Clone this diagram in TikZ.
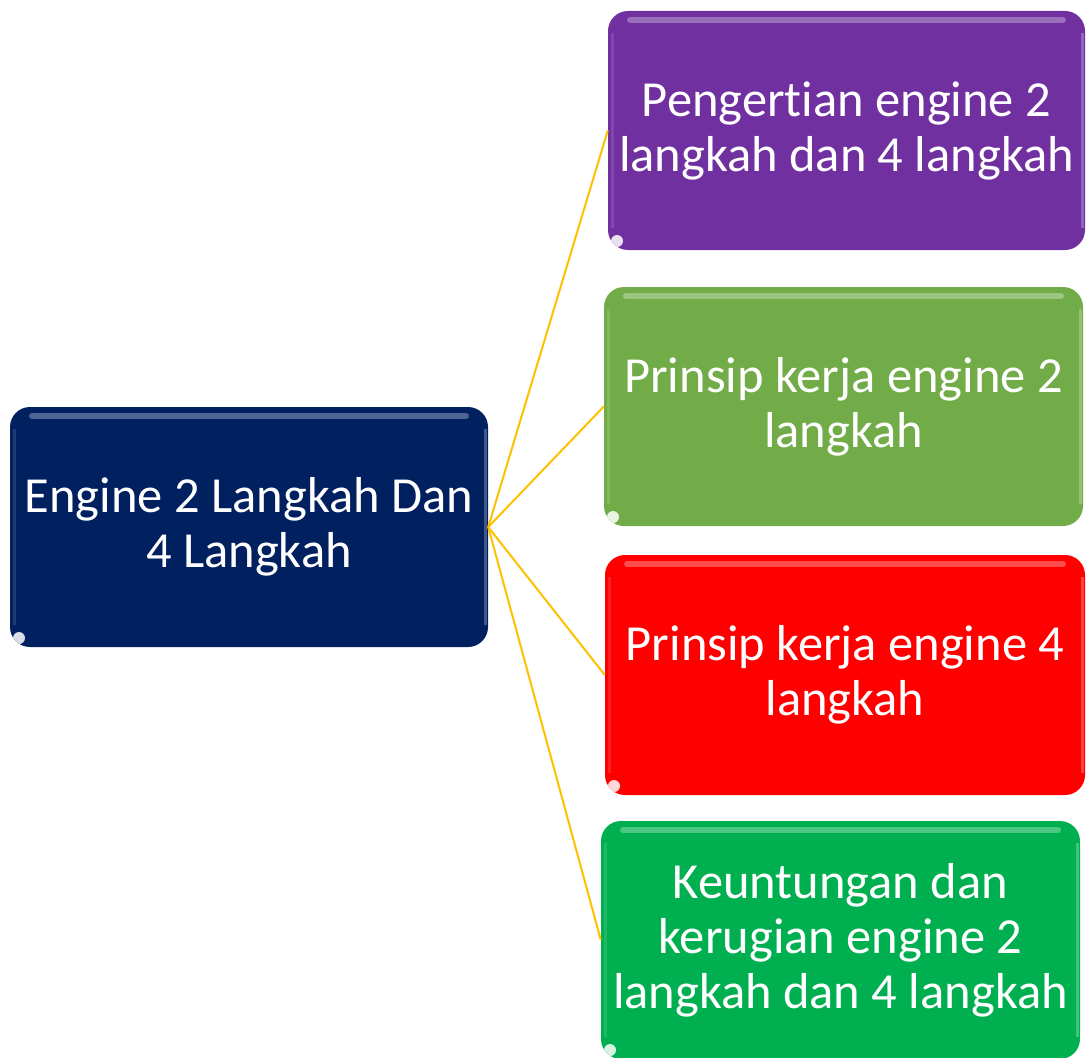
\documentclass[tikz,border=0pt]{standalone}
\usepackage{fontspec}
\setmainfont{Carlito}[Ligatures=NoCommon]
\definecolor{navy}{HTML}{002060}
\definecolor{cpurple}{HTML}{7030A0}
\definecolor{clgreen}{HTML}{72AC48}
\definecolor{cred}{HTML}{FF0000}
\definecolor{cgreen}{HTML}{00B050}
\definecolor{cline}{HTML}{FFC000}
\begin{document}
\begin{tikzpicture}[x=1pt,y=-1pt,
  box/.style={rounded corners=20pt, inner sep=0pt, align=center, text=white,
    font=\fontsize{50.5}{55}\selectfont,
    path picture={
      \draw[white, opacity=0.3, line width=6pt, line cap=round]
        ([xshift=22pt,yshift=-9pt]path picture bounding box.north west) --
        ([xshift=-22pt,yshift=-9pt]path picture bounding box.north east);
      \draw[white, opacity=0.25, line width=3pt]
        ([xshift=-3pt,yshift=-22pt]path picture bounding box.north east) --
        ([xshift=-3pt,yshift=22pt]path picture bounding box.south east);
      \draw[white, opacity=0.12, line width=3pt]
        ([xshift=4pt,yshift=-22pt]path picture bounding box.north west) --
        ([xshift=4pt,yshift=22pt]path picture bounding box.south west);
      \fill[white, opacity=0.85]
        ([xshift=9pt,yshift=9pt]path picture bounding box.south west) circle (6pt);
    }},
  conn/.style={cline, line width=2pt}]
\useasboundingbox (0,0) rectangle (1086,1057);
\node[box, fill=navy, minimum width=478pt, minimum height=240pt] (main) at (249,527)
  {Engine 2 Langkah Dan\\4 Langkah};
\node[box, fill=cpurple, minimum width=477pt, minimum height=239pt] (b1) at (846.5,130.5)
  {Pengertian engine 2\\langkah dan 4 langkah};
\node[box, fill=clgreen, minimum width=479pt, minimum height=239pt] (b2) at (843.5,406.5)
  {Prinsip kerja engine 2\\langkah};
\node[box, fill=cred, minimum width=480pt, minimum height=240pt] (b3) at (845,675)
  {Prinsip kerja engine 4\\langkah};
\node[box, fill=cgreen, minimum width=479pt, minimum height=238pt] (b4) at (840.5,940)
  {Keuntungan dan\\kerugian engine 2\\langkah dan 4 langkah};
\draw[conn] (main.east) -- (b1.west);
\draw[conn] (main.east) -- (b2.west);
\draw[conn] (main.east) -- (b3.west);
\draw[conn] (main.east) -- (b4.west);
\end{tikzpicture}
\end{document}
